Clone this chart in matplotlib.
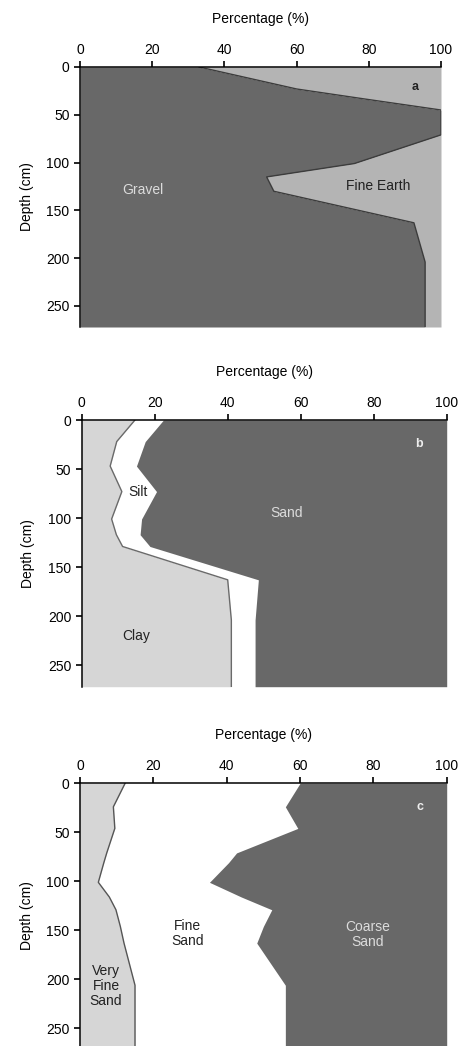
import matplotlib
matplotlib.use("Agg")
import matplotlib.pyplot as plt

plt.rcParams['font.family'] = ['Liberation Sans', 'DejaVu Sans']

# Panel a: gravel vs fine earth
depth_a = [0, 23, 33, 45, 71, 101, 115, 130, 163, 204, 272]
gravel_a = [33, 60, 78, 100, 100, 76, 51.7, 53.7, 92.5, 95.6, 95.6]

# Panel b: clay / silt / sand (cumulative boundaries)
depth_b = [0, 22, 47, 73, 101, 117, 129, 163, 204, 272]
clay_b = [14.6, 9.6, 7.8, 11.0, 8.2, 9.5, 11.2, 40.0, 41.0, 41.0]
clay_silt_b = [22.4, 17.4, 15.0, 20.5, 16.4, 16.0, 18.7, 48.4, 47.5, 47.5]

# Panel c: very fine / fine / coarse sand (cumulative boundaries)
depth_c = [0, 24, 46, 71, 81, 101, 116, 129, 146, 163, 206, 272]
vfs_c = [12.3, 9.1, 9.5, 7.3, 6.5, 5.0, 8.0, 9.8, 11.0, 12.0, 15.0, 15.0]
vfs_fs_c = [60.0, 56.0, 59.4, 42.7, 40.5, 35.3, 44.0, 52.3, 50.0, 48.2, 56.0, 56.0]

xticks = [0, 20, 40, 60, 80, 100]
yticks = [0, 50, 100, 150, 200, 250]

DARK = '#686868'
LIGHT_A = '#b4b4b4'
LIGHT = '#d6d6d6'
LINE = '#3c3c3c'

W, H = 462, 1046
fig = plt.figure(figsize=(W / 100, H / 100), dpi=100)


def make_ax(left, right, top, bottom):
    ax = fig.add_axes([left / W, 1 - bottom / H, (right - left) / W, (bottom - top) / H])
    ax.set_xlim(0, 100)
    ax.xaxis.tick_top()
    ax.xaxis.set_label_position('top')
    ax.set_xticks(xticks)
    ax.set_yticks(yticks)
    ax.spines['right'].set_visible(False)
    ax.spines['bottom'].set_visible(False)
    for s in ('top', 'left'):
        ax.spines[s].set_linewidth(1.1)
    ax.tick_params(direction='out', length=4, width=1.2, labelsize=10, pad=3.5)
    ax.set_xlabel('Percentage (%)', fontsize=10, labelpad=14)
    ax.set_ylabel('Depth (cm)', fontsize=10, labelpad=9)
    return ax


# ---- Panel a ----
ax = make_ax(80, 441, 67, 327)
ax.set_ylim(272, 0)
ax.fill_betweenx(depth_a, 0, gravel_a, color=DARK, lw=0)
ax.fill_betweenx(depth_a, gravel_a, 100, color=LIGHT_A, lw=0)
ax.plot(gravel_a, depth_a, color=LINE, lw=1)
ax.text(17.5, 129, 'Gravel', color='#dcdcdc', fontsize=10, ha='center', va='center')
ax.text(82.6, 124, 'Fine Earth', color='#222222', fontsize=10, ha='center', va='center')
ax.text(92.8, 21, 'a', color='#222222', fontsize=9, fontweight='bold', ha='center', va='center')

# ---- Panel b ----
ax = make_ax(81.7, 446.7, 420, 686.7)
ax.set_ylim(272, 0)
ax.fill_betweenx(depth_b, 0, clay_b, color=LIGHT, lw=0)
ax.fill_betweenx(depth_b, clay_b, clay_silt_b, color='white', lw=0)
ax.fill_betweenx(depth_b, clay_silt_b, 100, color=DARK, lw=0)
ax.plot(clay_b, depth_b, color='#6a6a6a', lw=1)
ax.text(15.5, 73, 'Silt', color='#222222', fontsize=10, ha='center', va='center')
ax.text(56, 95, 'Sand', color='#dcdcdc', fontsize=10, ha='center', va='center')
ax.text(14.9, 220, 'Clay', color='#222222', fontsize=10, ha='center', va='center')
ax.text(92.4, 24, 'b', color='#eeeeee', fontsize=9, fontweight='bold', ha='center', va='center')

# ---- Panel c ----
ax = make_ax(80, 446.7, 783.3, 1048)
ax.set_ylim(270, 0)
ax.fill_betweenx(depth_c, 0, vfs_c, color=LIGHT, lw=0)
ax.fill_betweenx(depth_c, vfs_c, vfs_fs_c, color='white', lw=0)
ax.fill_betweenx(depth_c, vfs_fs_c, 100, color=DARK, lw=0)
ax.plot(vfs_c, depth_c, color='#555555', lw=1)
ax.text(29.3, 153, 'Fine\nSand', color='#222222', fontsize=10, ha='center', va='center', linespacing=1.1)
ax.text(78.5, 154, 'Coarse\nSand', color='#dcdcdc', fontsize=10, ha='center', va='center', linespacing=1.1)
ax.text(7.1, 207, 'Very\nFine\nSand', color='#222222', fontsize=10, ha='center', va='center', linespacing=1.1)
ax.text(92.7, 24, 'c', color='#eeeeee', fontsize=9, fontweight='bold', ha='center', va='center')

fig.savefig('out.png', dpi=100)
